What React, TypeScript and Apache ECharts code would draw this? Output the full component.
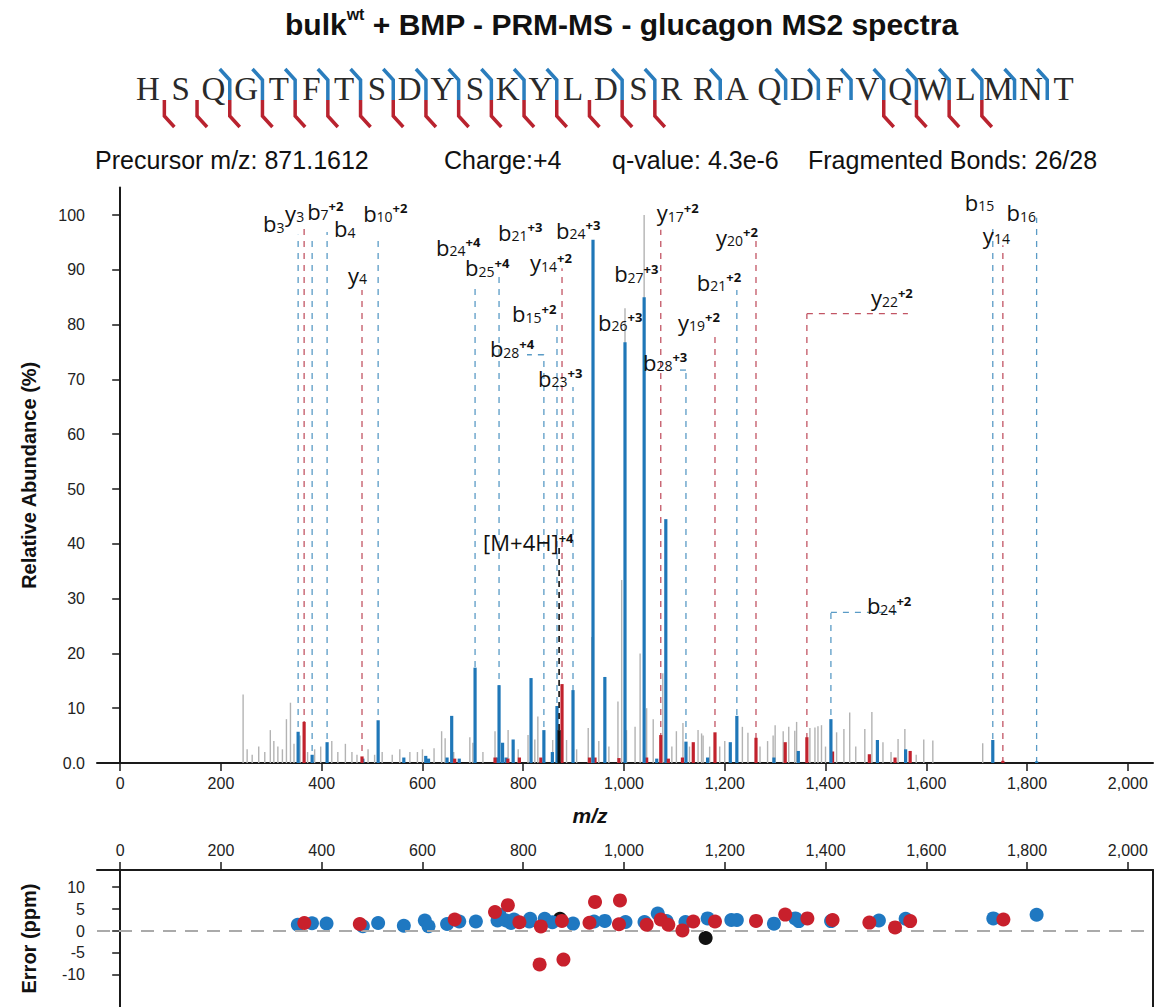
import React, { useEffect, useRef } from "react";
import * as echarts from "echarts";

// ---------------- DATA ----------------
const TITLE_MAIN = "bulk";
const TITLE_SUP = "wt";
const TITLE_REST = " + BMP - PRM-MS - glucagon MS2 spectra";

const SEQUENCE = "HSQGTFTSDYSKYLDSRRAQDFVQWLMNT";
const B_BONDS = [3, 4, 5, 6, 7, 8, 9, 10, 11, 12, 13, 15, 16, 18, 20, 21, 22, 23, 24, 25, 26, 27, 28];
const Y_BONDS = [1, 2, 3, 4, 5, 6, 7, 8, 9, 10, 11, 12, 13, 14, 15, 16, 23, 24, 25, 26];

const INFO_TEXTS = ["Precursor m/z: 871.1612", "Charge:+4", "q-value: 4.3e-6", "Fragmented Bonds: 26/28"];

const X_TICKS = [0, 200, 400, 600, 800, 1000, 1200, 1400, 1600, 1800, 2000];
const Y_TICKS = [0, 10, 20, 30, 40, 50, 60, 70, 80, 90, 100];
const ERR_TICKS = [-10, -5, 0, 5, 10];

// annotated fragment ions
const ionType = ["b", "y", "b", "b", "y", "b", "b", "b", "b", "b", "b", "y", "b", "b", "b", "b", "y", "b", "y", "b", "y", "y", "b", "b", "y", "b"];
const ionNumber = [3, 3, 7, 4, 4, 10, 24, 25, 21, 28, 15, 14, 23, 24, 26, 27, 17, 28, 19, 21, 20, 22, 24, 15, 14, 16];
const ionCharge = [1, 1, 2, 1, 1, 2, 4, 4, 3, 4, 2, 2, 3, 3, 3, 3, 2, 3, 2, 2, 2, 2, 2, 1, 1, 1];
const ionMz = [353.2, 365.1, 381, 410.7, 480, 512, 704.4, 752, 815.5, 841, 867, 877, 898.8, 938.5, 1002, 1040, 1073, 1123, 1180.6, 1224, 1262, 1363, 1410.7, 1732, 1752, 1819];
const ionIntensity = [5.7, 7.5, 1.5, 3.8, 1.2, 7.8, 17.4, 14.2, 15.5, 6, 10.4, 14.4, 13.3, 95.5, 76.8, 85, 5.1, 3.9, 5.6, 8.6, 4.6, 4.7, 8, 4.2, 0.4, 0.3];

// label layout for the annotated ions (kept apart from the values)
const ionLineTop = [96.4, 97.8, 95.4, 96.9, 86.3, 95.4, 87.6, 88.7, null, 74.5, 80.3, 90.3, 68.6, null, null, null, 97.3, 71.7, 78.6, 86.3, 95.4, 82, 27.5, 98.2, 94.5, 99.5];
const ionLabelY = [98.5, 100.4, 100.8, 97.6, 89.1, 100.4, 94.2, 90.5, 96.9, 75.7, 82.1, 91.4, 70.3, 97.3, 80.5, 89.4, 100.5, 73.2, 80.5, 87.8, 96, 85, 28.8, 102.4, 96.4, 100.5];
const ionLabelDx = [-35, -19, -5, 7, -14, -15, -39, -34, -33, -54, -45, -32, -35, -37, -27, -30, -4, -43, -37, -40, -40, 64, 36, -28, -20, -30];
const ionLeaderTo: (number | null)[] = [null, null, null, null, null, null, null, null, null, 807.5, null, null, null, null, null, null, null, 1111, null, null, null, 1563.5, 1553.6, null, null, null];

// precursor
const precursorMz = 871.2;
const precursorIntensity = 6;
const precursorLineTop = 40;
const precursorLabelY = 40.3;
const precursorLabelDx = -76;

// other matched peaks
const bMatchMz = [481.7, 563, 606.5, 612, 648.8, 658, 673, 749, 759, 766, 780, 857.8, 962, 1065, 1083, 1166, 1211, 1297.6, 1346, 1503, 1559];
const bMatchInt = [0.8, 1, 1.3, 0.8, 1, 8.6, 0.8, 1, 3.7, 1, 4.3, 2, 15.7, 0.8, 44.5, 1, 3.8, 1, 2.2, 4.2, 2.5];
const yMatchMz = [664, 744, 769.5, 792.4, 835, 931.5, 942.5, 990, 1045, 1088, 1116, 1137.5, 1320, 1414, 1487, 1538, 1568];
const yMatchInt = [0.8, 1, 0.8, 1, 1, 1, 1, 0.9, 1, 0.8, 1, 3.8, 3.8, 2.1, 1.6, 1, 2.2];

// unmatched peaks
const grayMz = [244, 252, 262, 275, 287, 298, 305, 313, 322, 330, 338, 345, 357, 372, 386, 398, 420, 432, 447, 460, 470, 492, 505, 520, 540, 555, 575, 590, 600, 623, 638, 645, 662, 694, 700, 720, 744, 770, 790, 809.5, 823, 829, 858.5, 886, 906, 929, 936, 950, 970, 988, 995.4, 1002, 1005, 1022, 1032, 1040, 1045, 1058, 1077, 1095, 1104, 1117, 1130, 1147, 1154, 1157, 1170, 1190, 1200, 1235, 1246, 1270, 1285, 1296, 1300, 1316, 1327, 1339, 1342.6, 1369, 1379, 1385, 1392, 1400, 1422, 1436.5, 1448, 1460, 1478, 1492, 1514, 1530, 1544, 1557.5, 1580, 1595, 1613, 1712];
const grayInt = [12.5, 2.5, 1.5, 3, 2, 6, 4, 3, 2.5, 8, 11, 3.5, 5, 2, 2.5, 3, 4, 2, 3.5, 2, 1.5, 2.5, 1.5, 2, 1.5, 2.5, 2, 2, 2.5, 2.7, 5.8, 4.5, 2, 4.7, 3.7, 2, 5.8, 6, 2.5, 5.1, 4.3, 8.5, 4.2, 4.2, 2.5, 6.4, 23, 4, 3, 11.2, 33.4, 83, 6, 6.6, 20, 100, 10, 8, 16.4, 3, 5.8, 7.3, 3, 6, 5.4, 5, 3, 3, 4, 6.6, 5.5, 3, 4, 5, 6.9, 5.8, 6.6, 5.9, 7.5, 6.4, 6.5, 6.7, 6.9, 3, 5.6, 6.2, 9.2, 3, 6.2, 9.3, 3.8, 2, 4.4, 6.2, 1.5, 4.3, 4.1, 3.6];

// mass error (ppm)
const errBMz = [352.6, 380.7, 409.6, 481.7, 512, 563, 604.7, 612, 648.8, 673, 706, 749, 753, 766, 775.6, 781.7, 812, 813.7, 842.6, 857.8, 898.8, 940.6, 962, 1003, 1040.7, 1067, 1084.5, 1122, 1166, 1213, 1224, 1297.6, 1340, 1347, 1411, 1506, 1559, 1733, 1819];
const errBPpm = [1.44, 1.78, 1.73, 1.1, 1.83, 1.2, 2.4, 1.1, 1.6, 2.16, 2.16, 2.4, 3.7, 2.4, 1.83, 2.64, 2.16, 2.8, 2.8, 2.0, 1.7, 2.16, 2.3, 2.07, 2.07, 3.99, 2.26, 2.07, 2.88, 2.5, 2.5, 1.68, 2.88, 2.26, 2.26, 2.4, 2.79, 2.88, 3.7];
const errYMz = [365.5, 475.6, 664, 744, 769.5, 792.4, 835, 876.8, 832.5, 879.8, 931.5, 942.5, 990, 992, 1045, 1073, 1088, 1116, 1137.5, 1180.6, 1262, 1320, 1364, 1414, 1487, 1538, 1568, 1753];
const errYPpm = [1.83, 1.59, 2.64, 4.33, 5.9, 2.0, 1.05, 2.3, -7.6, -6.5, 1.9, 6.63, 1.54, 6.97, 1.44, 2.64, 1.44, 0.14, 2.16, 2.16, 2.3, 3.75, 2.88, 2.5, 1.92, 0.82, 2.26, 2.64];
const errPMz = [873, 1162];
const errPPpm = [2.8, -1.6];

// ---------------- STYLE ----------------
const BLUE = "#1f77b8";
const RED = "#c1222d";
const GRAY = "#b3b3b3";
const BLUE_DASH = "#5a9bc6";
const RED_DASH = "#c25564";
const BLUE_MARK = "#2a7dbd";
const RED_MARK = "#b9232f";
const AXIS = "#1a1a1a";
const FONT = "Liberation Sans";
const LABEL_FONT = "Open Sans";

const X_MIN = -46;
const X_MAX = 2050;

function fmtThousands(v: number) {
  if (v >= 1000) return Math.floor(v / 1000) + "," + String(v % 1000).padStart(3, "0");
  return String(v);
}

function barSeries(mzs: number[], ints: number[], color: string, width: number, z: number) {
  return {
    type: "custom",
    xAxisIndex: 0,
    yAxisIndex: 0,
    silent: true,
    clip: false,
    z,
    data: mzs.map((m, i) => [m, ints[i]]),
    encode: { x: 0, y: 1 },
    renderItem: (_p: any, api: any) => {
      const b = api.coord([api.value(0), 0]);
      const t = api.coord([api.value(0), api.value(1)]);
      return {
        type: "rect",
        shape: { x: b[0] - width / 2, y: t[1], width, height: Math.max(b[1] - t[1], 0.6) },
        style: { fill: color },
      };
    },
  };
}

const labelRich = {
  m: { fontSize: 22, fontFamily: LABEL_FONT, fill: "#111", color: "#111", lineHeight: 22, verticalAlign: "middle" },
  s: { fontSize: 14, fontFamily: LABEL_FONT, fill: "#111", color: "#111", lineHeight: 7, verticalAlign: "bottom" },
  p: { fontSize: 13, fontWeight: "bold", fontFamily: LABEL_FONT, fill: "#111", color: "#111", lineHeight: 8, verticalAlign: "top" },
};

function ionSeries() {
  return {
    type: "custom",
    xAxisIndex: 0,
    yAxisIndex: 0,
    silent: true,
    clip: false,
    z: 5,
    data: ionMz.map((m, i) => [m, ionIntensity[i]]),
    encode: { x: 0, y: 1 },
    renderItem: (params: any, api: any) => {
      const i = params.dataIndex;
      const isB = ionType[i] === "b";
      const mz = api.value(0);
      const h = api.value(1);
      const b = api.coord([mz, 0]);
      const t = api.coord([mz, h]);
      const children: any[] = [];
      const lt = ionLineTop[i];
      if (lt !== null) {
        const p = api.coord([mz, lt]);
        children.push({
          type: "line",
          shape: { x1: b[0], y1: b[1], x2: b[0], y2: p[1] },
          style: { stroke: isB ? BLUE_DASH : RED_DASH, lineWidth: 1.3, lineDash: [6, 6] },
        });
        const lead = ionLeaderTo[i];
        if (lead !== null) {
          const q = api.coord([lead, lt]);
          children.push({
            type: "line",
            shape: { x1: b[0], y1: p[1], x2: q[0], y2: p[1] },
            style: { stroke: isB ? BLUE_DASH : RED_DASH, lineWidth: 1.3, lineDash: [6, 6] },
          });
        }
      }
      children.push({
        type: "rect",
        shape: { x: b[0] - 1.6, y: t[1], width: 3.2, height: Math.max(b[1] - t[1], 0.6) },
        style: { fill: isB ? BLUE : RED },
      });
      const ly = api.coord([mz, ionLabelY[i]])[1];
      const sup = ionCharge[i] > 1 ? "{p|+" + ionCharge[i] + "}" : "";
      children.push({
        type: "text",
        x: b[0] + ionLabelDx[i],
        y: ly,
        style: {
          text: "{m|" + ionType[i] + "}{s|" + ionNumber[i] + "}" + sup,
          rich: labelRich,
          align: "left",
          verticalAlign: "middle",
          textAlign: "left",
          textVerticalAlign: "middle",
        },
      });
      return { type: "group", children };
    },
  };
}

function precursorSeries() {
  return {
    type: "custom",
    xAxisIndex: 0,
    yAxisIndex: 0,
    silent: true,
    clip: false,
    z: 6,
    data: [[precursorMz, precursorIntensity]],
    encode: { x: 0, y: 1 },
    renderItem: (_p: any, api: any) => {
      const mz = api.value(0);
      const b = api.coord([mz, 0]);
      const t = api.coord([mz, api.value(1)]);
      const p = api.coord([mz, precursorLineTop]);
      const ly = api.coord([mz, precursorLabelY])[1];
      return {
        type: "group",
        children: [
          { type: "line", shape: { x1: b[0], y1: b[1], x2: b[0], y2: p[1] }, style: { stroke: "#111", lineWidth: 1.6, lineDash: [6, 5] } },
          { type: "rect", shape: { x: b[0] - 1.6, y: t[1], width: 3.2, height: b[1] - t[1] }, style: { fill: "#111" } },
          {
            type: "text",
            x: b[0] + precursorLabelDx,
            y: ly,
            style: {
              text: "{m|[M+4H]}{p|+4}",
              rich: labelRich,
              align: "left",
              verticalAlign: "middle",
              textAlign: "left",
              textVerticalAlign: "middle",
            },
          },
        ],
      };
    },
  };
}

function sequenceGraphics() {
  const x0 = 148;
  const dx = 32.7;
  const els: any[] = [];
  SEQUENCE.split("").forEach((ch, i) => {
    els.push({
      type: "text",
      x: x0 + i * dx,
      y: 88.5,
      style: {
        text: ch,
        fontSize: 33,
        fontFamily: "Liberation Serif",
        fill: "#2a2a2a",
        align: "center",
        verticalAlign: "middle",
        textAlign: "center",
        textVerticalAlign: "middle",
      },
    });
  });
  B_BONDS.forEach((k) => {
    const x = x0 + (k - 0.5) * dx;
    els.push({ type: "polyline", shape: { points: [[x - 10, 69], [x, 80], [x, 100]] }, style: { stroke: BLUE_MARK, lineWidth: 3.5, fill: null } });
  });
  Y_BONDS.forEach((k) => {
    const x = x0 + (k - 0.5) * dx;
    els.push({ type: "polyline", shape: { points: [[x, 100], [x, 116], [x + 10, 127]] }, style: { stroke: RED_MARK, lineWidth: 3.5, fill: null } });
  });
  return els;
}

function infoGraphics() {
  const xs = [95, 444, 612, 808];
  return INFO_TEXTS.map((t, i) => ({
    type: "text",
    x: xs[i],
    y: 160,
    style: {
      text: t,
      fontSize: 25,
      fontFamily: FONT,
      fill: "#111",
      align: "left",
      verticalAlign: "middle",
      textAlign: "left",
      textVerticalAlign: "middle",
    },
  }));
}

const tickLabelStyle = { fontSize: 16, fontFamily: FONT, color: "#222" };

const option: any = {
  animation: false,
  backgroundColor: "#ffffff",
  title: {
    text: "{a|" + TITLE_MAIN + "}{s|" + TITLE_SUP + "}{a|" + TITLE_REST + "}",
    left: 280,
    top: 1,
    textStyle: {
      rich: {
        a: { fontSize: 30, fontWeight: "bold", fontFamily: FONT, color: "#111", lineHeight: 36 },
        s: { fontSize: 16, fontWeight: "bold", fontFamily: FONT, color: "#111", lineHeight: 18, verticalAlign: "top" },
      },
    },
  },
  grid: [
    { left: 97, right: 3, top: 187.6, bottom: 244, containLabel: false },
    { left: 97, right: 3, top: 870, height: 137, containLabel: false },
  ],
  xAxis: [
    {
      type: "value",
      gridIndex: 0,
      min: X_MIN,
      max: X_MAX,
      position: "bottom",
      axisLine: { show: true, onZero: false, lineStyle: { color: AXIS, width: 2 } },
      axisTick: { show: true, customValues: X_TICKS, length: 8, lineStyle: { color: AXIS, width: 1.5 } },
      axisLabel: { customValues: X_TICKS, formatter: (v: number) => fmtThousands(v), margin: 12, ...tickLabelStyle },
      splitLine: { show: false },
    },
    {
      type: "value",
      gridIndex: 1,
      min: X_MIN,
      max: X_MAX,
      position: "top",
      axisLine: { show: true, onZero: false, lineStyle: { color: AXIS, width: 2 } },
      axisTick: { show: true, customValues: X_TICKS, length: 8, lineStyle: { color: AXIS, width: 1.5 } },
      axisLabel: { customValues: X_TICKS, formatter: (v: number) => fmtThousands(v), margin: 12, ...tickLabelStyle },
      splitLine: { show: false },
    },
  ],
  yAxis: [
    {
      type: "value",
      gridIndex: 0,
      min: 0,
      max: 105,
      name: "Relative Abundance (%)",
      nameLocation: "middle",
      nameGap: 58,
      nameRotate: 90,
      nameTextStyle: { fontSize: 20, fontWeight: "bold", fontFamily: FONT, color: "#111" },
      axisLine: { show: true, lineStyle: { color: AXIS, width: 2 } },
      axisTick: { show: true, customValues: Y_TICKS, length: 8, lineStyle: { color: AXIS, width: 1.5 } },
      axisLabel: { customValues: Y_TICKS, formatter: (v: number) => (v === 0 ? "0.0" : String(v)), margin: 12, ...tickLabelStyle },
      splitLine: { show: false },
    },
    {
      type: "value",
      gridIndex: 1,
      min: -17.3,
      max: 13.9,
      name: "Error (ppm)",
      nameLocation: "middle",
      nameGap: 58,
      nameRotate: 90,
      nameTextStyle: { fontSize: 20, fontWeight: "bold", fontFamily: FONT, color: "#111" },
      axisLine: { show: true, lineStyle: { color: AXIS, width: 2 } },
      axisTick: { show: true, customValues: ERR_TICKS, length: 8, lineStyle: { color: AXIS, width: 1.5 } },
      axisLabel: { customValues: ERR_TICKS, margin: 12, ...tickLabelStyle },
      splitLine: { show: false },
    },
    {
      type: "value",
      gridIndex: 1,
      min: -17.3,
      max: 13.9,
      position: "right",
      axisLine: { show: true, lineStyle: { color: AXIS, width: 2 } },
      axisTick: { show: false },
      axisLabel: { show: false },
      splitLine: { show: false },
    },
  ],
  graphic: [
    ...sequenceGraphics(),
    ...infoGraphics(),
    {
      type: "text",
      x: 590,
      y: 815,
      style: {
        text: "m/z",
        fontSize: 21,
        fontWeight: "bold",
        fontStyle: "italic",
        fontFamily: FONT,
        fill: "#111",
        align: "center",
        verticalAlign: "middle",
        textAlign: "center",
        textVerticalAlign: "middle",
      },
    },
  ],
  series: [
    barSeries(grayMz, grayInt, GRAY, 1.4, 1),
    barSeries(bMatchMz, bMatchInt, BLUE, 3.2, 2),
    barSeries(yMatchMz, yMatchInt, RED, 3.2, 2),
    ionSeries(),
    precursorSeries(),
    {
      type: "scatter",
      xAxisIndex: 1,
      yAxisIndex: 1,
      data: [],
      z: 1,
      markLine: {
        silent: true,
        symbol: "none",
        label: { show: false },
        lineStyle: { color: "#aaaaaa", width: 2, type: [13, 9] },
        data: [{ yAxis: 0 }],
      },
    },
    {
      type: "scatter",
      xAxisIndex: 1,
      yAxisIndex: 1,
      symbolSize: 14,
      z: 3,
      itemStyle: { color: "#111111", opacity: 1 },
      data: errPMz.map((m, i) => [m, errPPpm[i]]),
    },
    {
      type: "scatter",
      xAxisIndex: 1,
      yAxisIndex: 1,
      symbolSize: 14,
      z: 4,
      itemStyle: { color: "#1f78c1", opacity: 1 },
      data: errBMz.map((m, i) => [m, errBPpm[i]]),
    },
    {
      type: "scatter",
      xAxisIndex: 1,
      yAxisIndex: 1,
      symbolSize: 14,
      z: 5,
      itemStyle: { color: "#c8202c", opacity: 1 },
      data: errYMz.map((m, i) => [m, errYPpm[i]]),
    },
  ],
};

export default function App() {
  const ref = useRef<HTMLDivElement>(null);
  useEffect(() => {
    if (!ref.current) return;
    const chart = echarts.init(ref.current, null, { renderer: "svg" });
    chart.setOption(option);
    return () => chart.dispose();
  }, []);
  return (
    <div
      ref={ref}
      style={{ position: "fixed", left: 0, top: 0, width: 1156, height: 1007, background: "#ffffff" }}
    />
  );
}
